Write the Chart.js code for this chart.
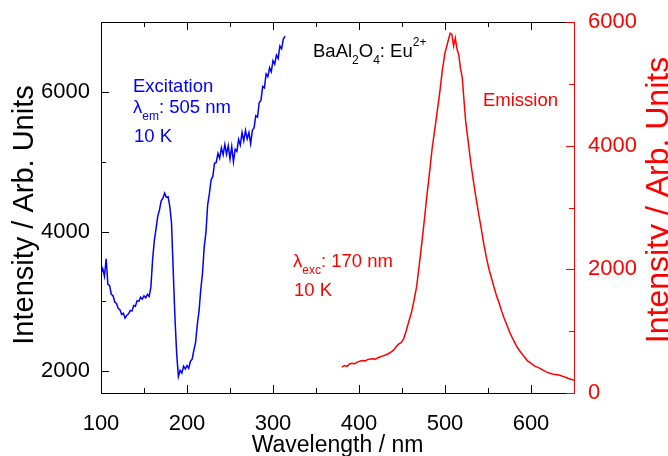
<!DOCTYPE html>
<html>
<head>
<meta charset="utf-8">
<script src="https://cdn.jsdelivr.net/npm/chart.js@4.4.1/dist/chart.umd.min.js"></script>
<style>
  html, body { margin: 0; padding: 0; background: #fff; }
  #wrap { width: 668px; height: 456px; }
</style>
</head>
<body>
<div id="wrap"><canvas id="c" width="668" height="456"></canvas></div>
<script>
// Wavelength axis (nm)
const wavelengthTicks = [100, 200, 300, 400, 500, 600];
const wavelengthMinor = [150, 250, 350, 450, 550];
// Left axis: excitation intensity
const excTicks = [2000, 4000, 6000];
const excMinor = [3000, 5000];
// Right axis: emission intensity
const emTicks = [0, 2000, 4000, 6000];
const emMinor = [1000, 3000, 5000];

// Excitation spectrum (lambda_em = 505 nm, 10 K)
const excWavelength = [
  100,102,104,106,108,110,112,114,116,118,
  120,122,124,126,128,130,132,134,136,138,
  140,142,144,146,148,150,152,154,156,158,
  160,162,164,166,168,170,172,174,176,178,
  180,182,184,186,188,190,192,194,196,198,
  200,202,204,206,208,210,212,214,216,218,
  220,222,224,226,228,230,232,234,236,238,
  240,242,244,246,248,250,252,254,256,258,
  260,262,264,266,268,270,272,274,276,278,
  280,282,284,286,288,290,292,294,296,298,
  300,302,304,306,308,310,312,314
];
const excIntensity = [
  3395,3470,3360,3610,3240,3230,3100,3080,2990,2970,
  2900,2880,2810,2830,2760,2800,2820,2870,2860,2940,
  2930,3010,3000,3060,3030,3080,3050,3100,3070,3200,
  3600,3870,4040,4220,4310,4440,4480,4550,4490,4500,
  4360,4120,3430,2760,2250,1920,2010,1970,2070,2030,
  2080,2040,2140,2170,2300,2410,2670,2860,3170,3400,
  3780,3980,4380,4540,4740,4790,4980,4990,5120,5050,
  5200,5100,5250,5110,5230,5040,5220,5000,5180,5150,
  5320,5240,5420,5300,5450,5330,5420,5260,5450,5490,
  5660,5640,5850,5880,6080,6060,6260,6220,6350,6290,
  6450,6400,6530,6480,6660,6620,6760,6800
];

// Emission spectrum (lambda_exc = 170 nm, 10 K)
const emWavelength = [
  380,383,386,389,392,395,398,401,404,407,
  410,413,416,419,422,425,428,431,434,437,
  440,443,446,449,452,455,458,461,464,467,
  470,473,476,479,482,485,488,491,494,497,
  500,503,506,508,510,512,514,516,518,520,
  522,524,527,530,533,536,539,542,545,548,
  551,554,557,560,563,566,569,572,575,578,
  581,584,587,590,593,596,599,602,605,608,
  611,614,617,620,623,626,629,632,635,638,
  641,644,647,650
];
const emIntensity = [
  419,445,430,470,480,474,500,515,527,520,
  540,550,555,548,570,585,600,615,635,660,
  690,745,790,815,880,1010,1160,1300,1500,1720,
  2065,2420,2800,3200,3560,3950,4250,4560,4870,5230,
  5500,5660,5820,5800,5610,5740,5560,5470,5250,5110,
  4750,4400,4060,3720,3430,3160,2910,2670,2420,2200,
  2010,1860,1710,1570,1450,1320,1200,1100,990,900,
  820,740,680,625,570,520,490,460,430,415,
  395,370,345,330,315,305,300,290,280,265,
  250,230,220,205
];

const FONT = '"Liberation Sans", Arial, Helvetica, sans-serif';
const BLUE = 'rgb(0,0,255)';
const RED = 'rgb(255,0,0)';

function toPoints(xs, ys) { return xs.map((x, i) => ({ x: x, y: ys[i] })); }

// Text with sub/superscript parts, drawn left to right from (x, y) baseline
function drawRich(ctx, x, y, parts, color, size) {
  ctx.fillStyle = color;
  ctx.textAlign = 'left';
  ctx.textBaseline = 'alphabetic';
  let cx = x;
  for (const p of parts) {
    const small = p.sub || p.sup;
    const s = small ? Math.round(size * 0.67) : size;
    ctx.font = s + 'px ' + FONT;
    const dy = p.sub ? size * 0.37 : (p.sup ? -size * 0.6 : 0);
    ctx.fillText(p.t, cx, y + dy);
    cx += ctx.measureText(p.t).width;
  }
}

// Rotated (bottom-to-top) axis title with its baseline at x = bx
function drawVerticalTitle(ctx, text, bx, cy, size, color) {
  ctx.save();
  ctx.font = size + 'px ' + FONT;
  ctx.fillStyle = color;
  ctx.textAlign = 'center';
  ctx.textBaseline = 'alphabetic';
  ctx.translate(bx, cy);
  ctx.rotate(-Math.PI / 2);
  ctx.fillText(text, 0, 0);
  ctx.restore();
}

const decorations = {
  id: 'decorations',
  afterDraw(chart) {
    const { ctx, chartArea: a, scales } = chart;
    const x = scales.x, y = scales.y, y2 = scales.y2;
    const al = v => Math.round(v) + 0.5;
    const seg = (x1, y1, x2, y2_) => { ctx.beginPath(); ctx.moveTo(x1, y1); ctx.lineTo(x2, y2_); ctx.stroke(); };
    ctx.save();
    ctx.lineWidth = 1;
    ctx.strokeStyle = '#000';
    // top frame line
    seg(a.left, al(a.top), a.right, al(a.top));
    // wavelength ticks, bottom and top, pointing inward
    wavelengthTicks.forEach(v => { const p = al(x.getPixelForValue(v)); seg(p, a.bottom, p, a.bottom - 8); seg(p, a.top, p, a.top + 8); });
    wavelengthMinor.forEach(v => { const p = al(x.getPixelForValue(v)); seg(p, a.bottom, p, a.bottom - 5); seg(p, a.top, p, a.top + 5); });
    // left axis ticks
    excTicks.forEach(v => { const p = al(y.getPixelForValue(v)); seg(a.left, p, a.left + 8, p); });
    excMinor.forEach(v => { const p = al(y.getPixelForValue(v)); seg(a.left, p, a.left + 5, p); });
    // right axis ticks
    ctx.strokeStyle = RED;
    emTicks.forEach(v => { const p = al(y2.getPixelForValue(v)); seg(a.right, p, a.right - 8, p); });
    emMinor.forEach(v => { const p = al(y2.getPixelForValue(v)); seg(a.right, p, a.right - 5, p); });

    // axis titles
    drawVerticalTitle(ctx, 'Intensity / Arb. Units', 33, 215, 29, '#000');
    drawVerticalTitle(ctx, 'Intensity / Arb. Units', 668, 200, 32, RED);
    ctx.fillStyle = '#000';
    ctx.textAlign = 'center';
    ctx.textBaseline = 'alphabetic';
    ctx.font = '23px ' + FONT;
    ctx.fillText('Wavelength / nm', (a.left + a.right) / 2, 452);

    // annotations
    const S = 18.5;
    drawRich(ctx, 133, 92, [{ t: 'Excitation' }], BLUE, S);
    drawRich(ctx, 133, 113, [{ t: 'λ' }, { t: 'em', sub: true }, { t: ': 505 nm' }], BLUE, S);
    drawRich(ctx, 134, 142, [{ t: '10 K' }], BLUE, S);
    drawRich(ctx, 313, 57, [{ t: 'BaAl' }, { t: '2', sub: true }, { t: 'O' }, { t: '4', sub: true }, { t: ': Eu' }, { t: '2+', sup: true }], '#000', S);
    drawRich(ctx, 293, 267, [{ t: 'λ' }, { t: 'exc', sub: true }, { t: ': 170 nm' }], RED, S);
    drawRich(ctx, 294, 296, [{ t: '10 K' }], RED, S);
    drawRich(ctx, 483, 106, [{ t: 'Emission' }], RED, S);
    ctx.restore();
  }
};

const plainLabel = v => String(v);
const fitVertical = w => s => { s.width = w; s.paddingTop = 0; s.paddingBottom = 0; };

new Chart(document.getElementById('c'), {
  type: 'line',
  data: {
    datasets: [
      { label: 'Excitation', data: toPoints(excWavelength, excIntensity), yAxisID: 'y',
        borderColor: BLUE, borderWidth: 1.5, pointRadius: 0, tension: 0, fill: false },
      { label: 'Emission', data: toPoints(emWavelength, emIntensity), yAxisID: 'y2',
        borderColor: RED, borderWidth: 1.5, pointRadius: 0, tension: 0, fill: false }
    ]
  },
  options: {
    responsive: false,
    devicePixelRatio: 1,
    animation: false,
    layout: { padding: { top: 22, left: 0, right: 0, bottom: 0 } },
    plugins: { legend: { display: false }, tooltip: { enabled: false } },
    scales: {
      x: {
        type: 'linear', position: 'bottom', min: 100, max: 650,
        afterBuildTicks: s => { s.ticks = wavelengthTicks.map(v => ({ value: v })); },
        afterFit: s => { s.height = 63; },
        grid: { display: false, drawTicks: false },
        border: { display: true, color: '#000', width: 1 },
        ticks: { autoSkip: false, maxRotation: 0, padding: 18, color: '#000', callback: plainLabel, font: { family: FONT, size: 22 } }
      },
      y: {
        type: 'linear', position: 'left', min: 1686, max: 7004,
        afterBuildTicks: s => { s.ticks = excTicks.map(v => ({ value: v })); },
        afterFit: fitVertical(101),
        grid: { display: false, drawTicks: false },
        border: { display: true, color: '#000', width: 1 },
        ticks: { padding: 11, color: '#000', callback: plainLabel, font: { family: FONT, size: 22 } }
      },
      y2: {
        type: 'linear', position: 'right', min: 0, max: 6000,
        afterBuildTicks: s => { s.ticks = emTicks.map(v => ({ value: v })); },
        afterFit: fitVertical(94),
        grid: { display: false, drawTicks: false },
        border: { display: true, color: RED, width: 1 },
        ticks: { padding: 14, color: RED, callback: plainLabel, font: { family: FONT, size: 22 } }
      }
    }
  },
  plugins: [decorations]
});
</script>
</body>
</html>
